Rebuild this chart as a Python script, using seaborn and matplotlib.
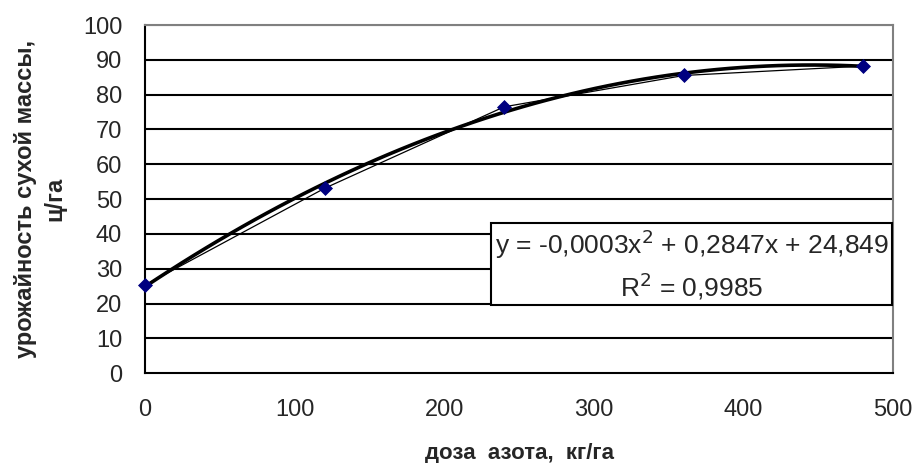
import numpy as np
import pandas as pd
import matplotlib
matplotlib.use("Agg")
import matplotlib.pyplot as plt
import seaborn as sns

# доза азота, кг/га и урожайность, ц/га
dose = [0, 120, 240, 360, 480]
yield_dm = [25.3, 53.1, 76.5, 85.5, 88.2]

sns.set_style("white")
plt.rcParams['font.family'] = ['Liberation Sans', 'DejaVu Sans']

df = pd.DataFrame({'dose': dose, 'yield': yield_dm})

# полиномиальный тренд 2-й степени по данным
coef = np.polyfit(df['dose'], df['yield'], 2)
xs = np.linspace(0, 480, 60)
trend = pd.DataFrame({'dose': xs, 'yield': np.polyval(coef, xs)})

fig = plt.figure(figsize=(9.18, 4.63), dpi=100)
ax = fig.add_axes([0.158, 0.194, 0.815, 0.752])

for v in range(10, 101, 10):
    ax.axhline(v, color='black' if v < 100 else '#808080', lw=1.5, zorder=1)

sns.lineplot(data=trend, x='dose', y='yield', color='black', lw=2.6, ax=ax, zorder=3)
sns.lineplot(data=df, x='dose', y='yield', color='black', lw=0.9, ax=ax, zorder=3)
sns.scatterplot(data=df, x='dose', y='yield', marker='D', s=50, color='#000080',
                edgecolor='#000080', ax=ax, zorder=4, clip_on=False)

ax.set_xlim(0, 500)
ax.set_ylim(0, 100)
ax.set_xticks(range(0, 501, 100))
ax.set_yticks(range(0, 101, 10))
ax.tick_params(axis='both', direction='inout', length=11, width=1.5, labelsize=17,
               color='black')
ax.tick_params(axis='x', pad=13)
ax.tick_params(axis='y', pad=11)

for s in ['left', 'bottom']:
    ax.spines[s].set_color('black')
    ax.spines[s].set_linewidth(1.5)
for s in ['top', 'right']:
    ax.spines[s].set_color('#808080')
    ax.spines[s].set_linewidth(1.5)

ax.set_xlabel('доза  азота,  кг/га', fontsize=16, fontweight='bold', labelpad=16)
ax.set_ylabel('урожайность сухой массы,\nц/га', fontsize=17, fontweight='bold',
              labelpad=12, linespacing=1.35)

ax.text(0.7306, 0.312, 'y = -0,0003x$^2$ + 0,2847x + 24,849\nR$^2$ = 0,9985',
        transform=ax.transAxes, ha='center', va='center', fontsize=19,
        linespacing=1.35, multialignment='center', zorder=5,
        bbox=dict(boxstyle='square,pad=0.12', fc='white', ec='black', lw=1.5))

fig.savefig('out.png', dpi=100)
